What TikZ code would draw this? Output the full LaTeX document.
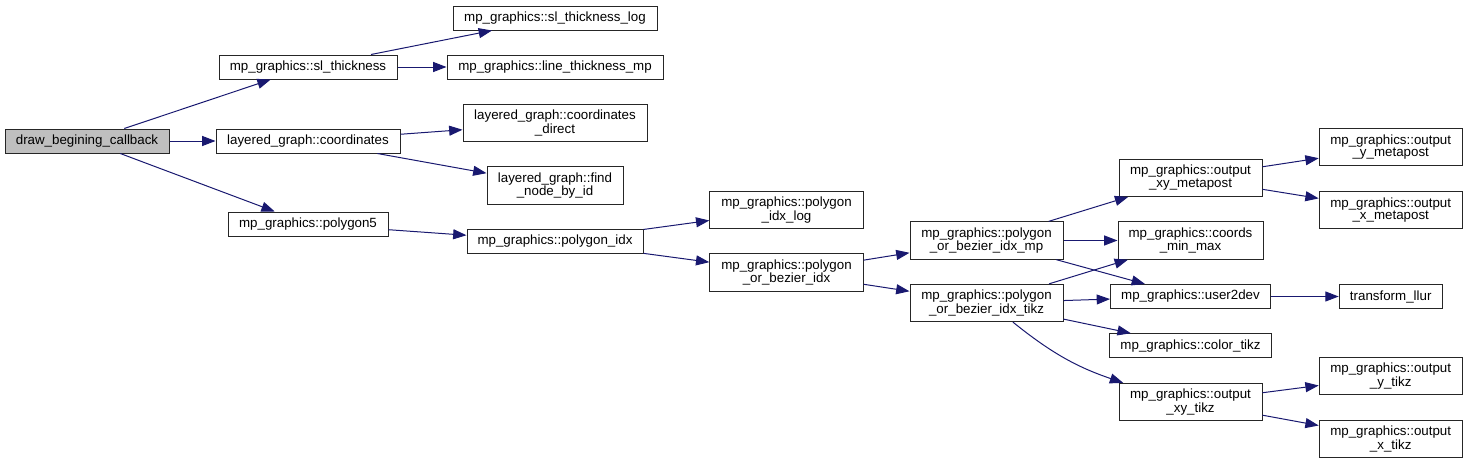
\documentclass[tikz,border=0pt]{standalone}
\usepackage{fontspec}
\setmainfont{Liberation Sans}
\usetikzlibrary{arrows.meta}
\definecolor{CallBlue}{HTML}{191970}
\definecolor{RootGray}{HTML}{BFBFBF}

\begin{document}
\begin{tikzpicture}[x=0.75pt,y=-0.75pt,
    fn/.style={draw=black!85,line width=0.75pt,fill=white,inner sep=0pt,
      align=center,font=\fontsize{10}{9.3}\selectfont,minimum height=18pt},
    fntwo/.style={fn,minimum height=28pt},
    call/.style={CallBlue,line width=0.75pt,
      -{Triangle[length=10pt,width=7.5pt]}}]
  \useasboundingbox (0,0) rectangle (1467,464);
  % first column
  \node[fn,fill=RootGray,minimum width=123pt] (dbc) at (87,141)
    {draw\_begining\_callback};
  % second column
  \node[fn,minimum width=133.5pt] (slt) at (308,67)
    {mp\_graphics::sl\_thickness};
  \node[fn,minimum width=138pt] (coord) at (308,141)
    {layered\_graph::coordinates};
  \node[fn,minimum width=120pt] (poly5) at (308,224)
    {mp\_graphics::polygon5};
  % third column
  \node[fn,minimum width=153pt] (sltlog) at (555,18)
    {mp\_graphics::sl\_thickness\_log};
  \node[fn,minimum width=162pt] (ltmp) at (555,67)
    {mp\_graphics::line\_thickness\_mp};
  \node[fntwo,minimum width=138pt] (cdir) at (555,123)
    {layered\_graph::coordinates\\\_direct};
  \node[fntwo,minimum width=102pt] (fnbi) at (555,185.5)
    {layered\_graph::find\\\_node\_by\_id};
  \node[fn,minimum width=132pt] (pidx) at (555,241.5)
    {mp\_graphics::polygon\_idx};
  % fourth column
  \node[fntwo,minimum width=115pt] (pidxlog) at (786.5,210)
    {mp\_graphics::polygon\\\_idx\_log};
  \node[fntwo,minimum width=115pt] (pobi) at (786.5,272.5)
    {mp\_graphics::polygon\\\_or\_bezier\_idx};
  % fifth column
  \node[fntwo,minimum width=114.75pt] (pobimp) at (986.5,240.5)
    {mp\_graphics::polygon\\\_or\_bezier\_idx\_mp};
  \node[fntwo,minimum width=114.75pt] (pobitikz) at (986.5,303)
    {mp\_graphics::polygon\\\_or\_bezier\_idx\_tikz};
  % sixth column
  \node[fntwo,minimum width=107.25pt] (oxymp) at (1190.5,177.7)
    {mp\_graphics::output\\\_xy\_metapost};
  \node[fntwo,minimum width=108.75pt] (cmm) at (1190.5,240.5)
    {mp\_graphics::coords\\\_min\_max};
  \node[fn,minimum width=120pt] (u2d) at (1190.5,296.5)
    {mp\_graphics::user2dev};
  \node[fn,minimum width=121.5pt] (ctikz) at (1190.5,345.7)
    {mp\_graphics::color\_tikz};
  \node[fntwo,minimum width=107.25pt] (oxyt) at (1190.5,402)
    {mp\_graphics::output\\\_xy\_tikz};
  % last column
  \node[fntwo,minimum width=107.25pt] (oymp) at (1390.7,147.3)
    {mp\_graphics::output\\\_y\_metapost};
  \node[fntwo,minimum width=107.25pt] (oxmp) at (1390.7,210)
    {mp\_graphics::output\\\_x\_metapost};
  \node[fn,minimum width=77.25pt] (tllur) at (1390.7,296.5)
    {transform\_llur};
  \node[fntwo,minimum width=107.25pt] (oyt) at (1390.7,376.2)
    {mp\_graphics::output\\\_y\_tikz};
  \node[fntwo,minimum width=107.25pt] (oxt) at (1390.7,438.7)
    {mp\_graphics::output\\\_x\_tikz};
  % calls
  \foreach \a/\b in {dbc/slt,dbc/coord,dbc/poly5,slt/sltlog,slt/ltmp,
      coord/cdir,coord/fnbi,poly5/pidx,pidx/pidxlog,pidx/pobi,
      pobi/pobimp,pobi/pobitikz,pobimp/oxymp,pobimp/cmm,pobimp/u2d,
      pobitikz/cmm,pobitikz/u2d,pobitikz/ctikz,oxymp/oymp,oxymp/oxmp,
      u2d/tllur,oxyt/oyt,oxyt/oxt}
    \draw[call] (\a) -- (\b);
  \draw[call] (pobitikz) to[bend right=10] (oxyt);
\end{tikzpicture}
\end{document}
